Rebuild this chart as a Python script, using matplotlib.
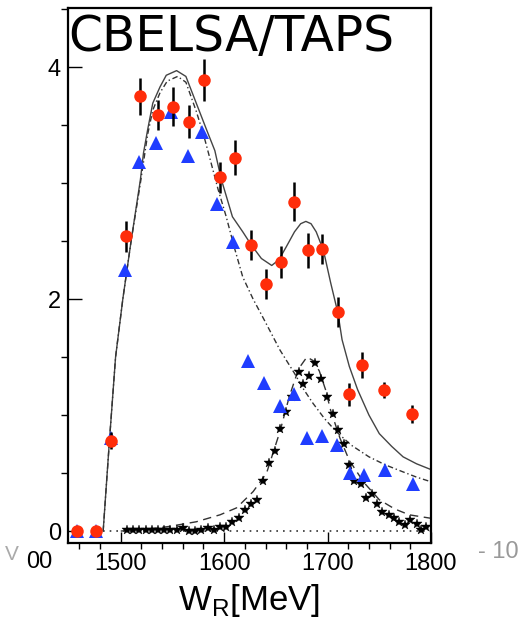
import numpy as np
import matplotlib.pyplot as plt
from matplotlib.ticker import MultipleLocator

# data points (W in MeV)
red_w = [1458, 1476, 1491, 1505, 1519, 1536, 1551, 1566, 1580.5, 1595.5, 1610.5,
         1625.5, 1640, 1655, 1668, 1681, 1695, 1710, 1721, 1733, 1755, 1782]
red_v = [0.0, 0.0, 0.78, 2.54, 3.75, 3.59, 3.66, 3.53, 3.89, 3.05, 3.22,
         2.47, 2.13, 2.32, 2.84, 2.42, 2.43, 1.89, 1.18, 1.43, 1.215, 1.01]
red_e = [0, 0, 0.07, 0.13, 0.16, 0.13, 0.17, 0.14, 0.18, 0.135, 0.15,
         0.13, 0.13, 0.14, 0.17, 0.15, 0.13, 0.13, 0.10, 0.11, 0.07, 0.08]

blue_w = [1458, 1476, 1491, 1504, 1517.5, 1534, 1549, 1565, 1579, 1593, 1608.5,
          1623, 1639, 1654, 1668, 1680.5, 1694.5, 1709, 1722, 1735, 1756, 1783]
blue_v = [0.0, 0.0, 0.80, 2.25, 3.18, 3.35, 3.61, 3.23, 3.44, 2.82, 2.49,
          1.47, 1.28, 1.08, 1.18, 0.80, 0.82, 0.74, 0.50, 0.48, 0.53, 0.41]

star_w = [1506, 1512, 1518, 1524, 1530, 1536, 1542, 1548, 1554, 1560, 1566, 1572,
          1578, 1584, 1590, 1596, 1602, 1608, 1614, 1620, 1626, 1632, 1637.5, 1643,
          1649, 1654, 1660, 1666, 1672, 1676, 1682.5, 1688, 1694, 1699, 1705, 1710,
          1716, 1721, 1726, 1732, 1737, 1742.5, 1748, 1753, 1759, 1764, 1769, 1775,
          1780, 1786, 1790.5, 1795]
star_v = [0.005, 0.005, 0.005, 0.005, 0.005, 0.005, 0.005, 0.005, 0.005, 0.023, 0.003, 0.003,
          0.005, 0.023, 0.005, 0.037, 0.037, 0.08, 0.109, 0.181, 0.236, 0.27, 0.434, 0.583,
          0.69, 0.876, 1.03, 1.16, 1.37, 1.27, 1.34, 1.445, 1.31, 1.16, 1.006, 0.87,
          0.75, 0.569, 0.434, 0.405, 0.282, 0.319, 0.233, 0.167, 0.138, 0.109, 0.08, 0.052,
          0.095, 0.06, 0.009, 0.037]

# model curves
full_w = [1483, 1489, 1495, 1502, 1510, 1519, 1522, 1526, 1531, 1538, 1544, 1554,
          1563, 1573, 1583, 1591, 1597, 1608, 1618, 1626, 1636, 1646, 1653, 1660,
          1668, 1674, 1679, 1684, 1689, 1696, 1703, 1710, 1714, 1721, 1729, 1740,
          1750, 1762, 1773, 1786, 1800]
full_v = [0.0, 0.77, 1.5, 2.0, 2.5, 3.03, 3.26, 3.46, 3.69, 3.83, 3.93, 3.97,
          3.92, 3.69, 3.46, 3.28, 3.04, 2.71, 2.58, 2.47, 2.35, 2.29, 2.34, 2.45,
          2.58, 2.65, 2.67, 2.65, 2.58, 2.42, 2.14, 1.88, 1.65, 1.42, 1.22, 1.00,
          0.84, 0.73, 0.64, 0.58, 0.53]

bg_w = [1483, 1489, 1495, 1502, 1510, 1519, 1526, 1531, 1538, 1545, 1555, 1563,
        1573, 1580, 1586, 1594, 1602, 1610, 1618, 1628, 1637, 1647, 1654, 1661,
        1668, 1677, 1686, 1697, 1708, 1723, 1740, 1756, 1773, 1786, 1800]
bg_v = [0.0, 0.77, 1.5, 2.0, 2.5, 3.0, 3.42, 3.63, 3.78, 3.88, 3.92, 3.87,
        3.62, 3.42, 3.22, 2.95, 2.71, 2.44, 2.19, 2.0, 1.85, 1.68, 1.56, 1.46,
        1.36, 1.22, 1.10, 0.97, 0.86, 0.74, 0.64, 0.57, 0.51, 0.465, 0.425]

res_w = [1500, 1530, 1547, 1573, 1596, 1612, 1628, 1641, 1654, 1663, 1672, 1680,
         1686, 1692, 1698, 1703, 1712, 1721, 1735, 1750, 1765, 1779, 1800]
res_v = [0.0, 0.02, 0.04, 0.08, 0.14, 0.20, 0.34, 0.50, 0.86, 1.16, 1.40, 1.50,
         1.47, 1.38, 1.22, 1.04, 0.80, 0.61, 0.42, 0.27, 0.19, 0.14, 0.11]

fig = plt.figure(figsize=(5.27, 6.22), dpi=100)
ax = fig.add_axes([68/527, 79/622, 363/527, 535/622])

ax.plot([1483, 1800], [0, 0], color='#333333', linestyle=(0, (1, 3)), linewidth=1.2, zorder=2)
ax.plot(full_w, full_v, color='#444444', linewidth=1.0, zorder=2)
ax.plot(bg_w, bg_v, color='#333333', linewidth=1.0, linestyle=(0, (4, 2, 1, 2)), zorder=2)
ax.plot(res_w, res_v, color='#333333', linewidth=1.0, linestyle=(0, (6, 4)), zorder=2)

ax.plot(star_w, star_v, linestyle='none', marker='*', color='black',
        markersize=7, markeredgewidth=0.3, zorder=3)
ax.plot(blue_w, blue_v, linestyle='none', marker='^', color='#1f3dff',
        markersize=10, markeredgewidth=0, zorder=4)
ax.errorbar(red_w, red_v, yerr=red_e, fmt='none', ecolor='black',
            elinewidth=1.8, capsize=0, zorder=5)
ax.plot(red_w, red_v, linestyle='none', marker='o', color='#ff2d0a',
        markersize=9, markeredgewidth=0, zorder=6)

ax.set_xlim(1449, 1800)
ax.set_ylim(-0.103, 4.51)
ax.set_xticks([1500, 1600, 1700, 1800])
ax.xaxis.set_minor_locator(MultipleLocator(20))
ax.set_yticks([0, 2, 4])
ax.yaxis.set_minor_locator(MultipleLocator(0.5))

for s in ax.spines.values():
    s.set_linewidth(1.6)
ax.tick_params(direction='in', labelsize=17, top=False, right=False)
ax.tick_params(axis='x', which='major', length=8, width=1, pad=7)
ax.tick_params(axis='x', which='minor', length=4, width=1)
ax.tick_params(axis='y', which='major', length=10, width=1, pad=5)
ax.tick_params(axis='y', which='minor', length=5, width=1)
for lab in ax.get_xticklabels() + ax.get_yticklabels():
    lab.set_family('Liberation Sans')

ax.set_xlabel(r'W$_\mathregular{R}$[MeV]', fontsize=25, family='Liberation Sans', labelpad=5)

ax.text(0.0, 1 - 5/535, 'CBELSA/TAPS', transform=ax.transAxes, ha='left', va='top',
        fontsize=35, family='DejaVu Sans', zorder=7)

# leftovers of the slide around the plot
fig.text(52/527, 1 - 562/622, '00', ha='right', va='center', fontsize=17,
         family='Liberation Sans')
fig.text(5/527, 1 - 554/622, 'V', ha='left', va='center', fontsize=15,
         family='Liberation Sans', color='#aaaaaa')
fig.text(478/527, 1 - 552/622, '- 10', ha='left', va='center', fontsize=17,
         family='Liberation Sans', color='#999999')

fig.savefig('out.png', dpi=100)
